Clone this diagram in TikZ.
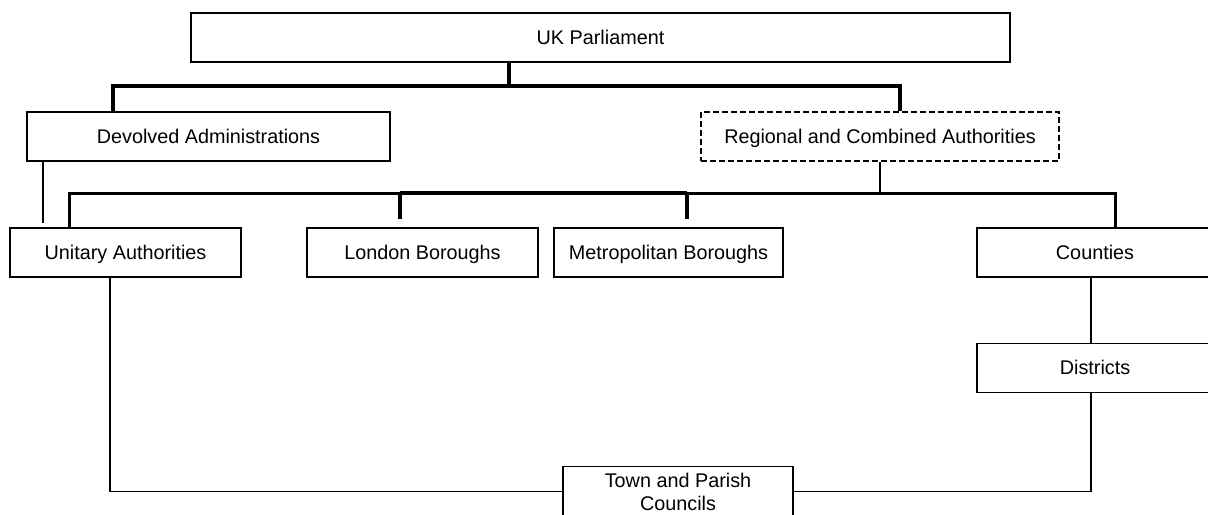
\documentclass[tikz,border=0pt]{standalone}
\usepackage{fontspec}
\setmainfont{Liberation Sans}
\begin{document}
\begin{tikzpicture}[x=0.5pt,y=-0.5pt,
		box/.style={draw,line width=0.75pt,minimum height=24.5pt,inner sep=0pt,align=center,font=\fontsize{9.9}{11.5}\selectfont},
		oneline/.style={box,text height=7.1pt,text depth=0.3pt},
		bar/.style={line width=1.6pt},
		midbar/.style={line width=1.5pt},
		thickbar/.style={line width=2pt},
		link/.style={line width=0.75pt}]
		\useasboundingbox (0,0) rectangle (1208,514);
		\clip (0,0) rectangle (1208,514);
		
		\node[oneline,minimum width=409.5pt] (parl) at (600.5,37.5) {UK Parliament};
		\node[oneline,minimum width=181.5pt] (devolved) at (208.5,136.5) {Devolved Administrations};
		\node[oneline,dash pattern=on 3pt off 1.5pt,minimum width=179pt] (regional) at (880,136.5) {Regional and Combined Authorities};
		
		\node[oneline,minimum width=115.5pt] (unitary) at (125.5,252.5) {Unitary Authorities};
		\node[oneline,minimum width=115.5pt] (london) at (422.5,252.5) {London Boroughs};
		\node[oneline,minimum width=114.5pt] (metro) at (668.5,252.5) {Metropolitan Boroughs};
		\node[oneline,minimum width=118pt] (counties) at (1095,252.5) {Counties};
		\node[oneline,minimum width=118pt] (districts) at (1095,368) {Districts};
		\node[box,minimum width=115pt,minimum height=25pt] (town) at (678,491.5) {Town and Parish\\Councils};
		
		\coordinate (tbar) at (509,86);
		\coordinate (mbar) at (880,193);
		\coordinate (ls) at (400,193);
		\coordinate (ms) at (687,193);
		
		% top level
		\draw[bar] (parl.south -| tbar) -- (tbar);
		\draw[bar] ([xshift=-47.75pt]devolved.north) |- (tbar) -| ([xshift=10pt]regional.north);
		
		% second level
		\draw[link] (regional.south) -- (mbar);
		\draw[midbar] ([xshift=-28.25pt]unitary.north) |- (mbar) -| ([xshift=10pt]counties.north);
		\draw[thickbar] (ls) -- (ms);
		\draw[thickbar,shorten >=4pt] (ls) -- (ls |- london.north);
		\draw[thickbar,shorten >=4pt] (ms) -- (ms |- metro.north);
		\draw[link] ([xshift=-82.75pt]devolved.south) -- ([xshift=-41.25pt,yshift=2pt]unitary.north);
		
		% lower tiers
		\draw[link] ([xshift=-2pt]counties.south) -- ([xshift=-2pt]districts.north);
		\draw[link] ([xshift=-7.75pt]unitary.south) |- (town.west);
		\draw[link] ([xshift=-2pt]districts.south) |- (town.east);
	\end{tikzpicture}
\end{document}
